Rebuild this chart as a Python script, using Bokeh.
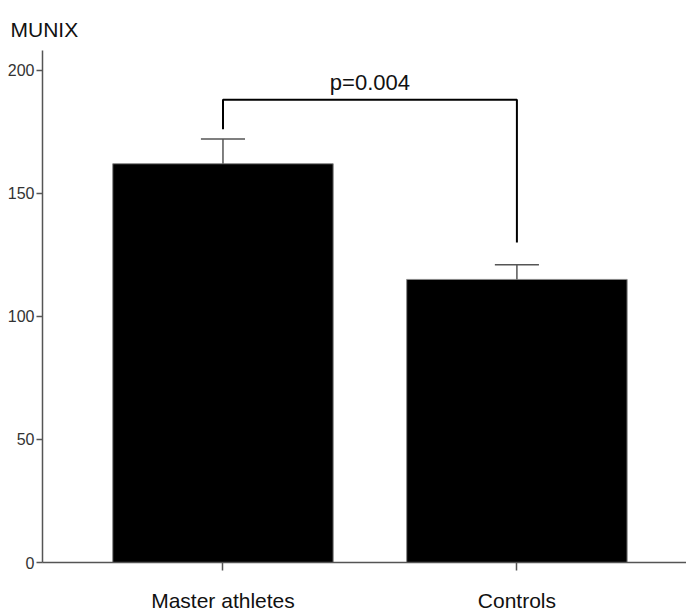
from bokeh.plotting import figure
from bokeh.models import Range1d, FixedTicker, Label, ColumnDataSource
from bokeh.embed import file_html
from bokeh.resources import INLINE

categories = ["Master athletes", "Controls"]
means = [162, 115]
upper = [172, 121]
bracket_left_low = 176
bracket_right_low = 130
bracket_top = 188
p_text = "p=0.004"
y_ticks = [0, 50, 100, 150, 200]

xs = [i + 1 for i in range(len(categories))]

p = figure(width=686, height=614, output_backend="svg", toolbar_location=None,
           x_range=Range1d(0.386, 2.577), y_range=Range1d(0, 208),
           min_border_left=42, min_border_right=0, min_border_top=50, min_border_bottom=52)
p.outline_line_color = None
p.grid.visible = False
p.background_fill_color = "white"

p.title.text = "MUNIX"
p.title.align = "left"
p.title.offset = -32
p.title.text_font = "Liberation Sans"
p.title.text_font_size = "21px"
p.title.text_font_style = "normal"
p.title.text_color = "#111111"
p.title.standoff = 19

src = ColumnDataSource(dict(x=xs, top=means, up=upper))
p.vbar(x="x", top="top", bottom=0, width=0.75, source=src,
       fill_color="black", line_color="#888888", line_width=1)
p.segment(x0="x", y0="top", x1="x", y1="up", source=src, line_color="#555555", line_width=1.5)
p.segment(x0=[x - 0.075 for x in xs], y0=upper, x1=[x + 0.075 for x in xs], y1=upper,
          line_color="#555555", line_width=1.5)

# significance bracket
p.line(x=[xs[0], xs[0], xs[1], xs[1]],
       y=[bracket_left_low, bracket_top, bracket_top, bracket_right_low],
       line_color="black", line_width=2)
p.add_layout(Label(x=(xs[0] + xs[1]) / 2, y=bracket_top, text=p_text, text_align="center",
                   text_baseline="bottom", y_offset=5, text_font="Liberation Sans",
                   text_font_size="22px", text_color="#111111"))

p.xaxis.ticker = FixedTicker(ticks=xs)
p.xaxis.major_label_overrides = {x: c for x, c in zip(xs, categories)}
p.xaxis.minor_tick_line_color = None
p.xaxis.major_tick_out = 8
p.xaxis.major_tick_in = 0
p.xaxis.major_label_standoff = 18
p.xaxis.major_label_text_font = "Liberation Sans"
p.xaxis.major_label_text_font_size = "21px"
p.xaxis.major_label_text_color = "#111111"
p.xaxis.axis_line_color = "#555555"
p.xaxis.axis_line_width = 1.5
p.xaxis.major_tick_line_color = "#555555"
p.xaxis.major_tick_line_width = 1.5

p.yaxis.ticker = FixedTicker(ticks=y_ticks)
p.yaxis.minor_tick_line_color = None
p.yaxis.major_tick_out = 6
p.yaxis.major_tick_in = 0
p.yaxis.major_label_standoff = 2
p.yaxis.major_label_text_font = "Liberation Sans"
p.yaxis.major_label_text_font_size = "16px"
p.yaxis.major_label_text_color = "#333333"
p.yaxis.axis_line_color = "#555555"
p.yaxis.axis_line_width = 1.5
p.yaxis.major_tick_line_color = "#555555"
p.yaxis.major_tick_line_width = 1.5

open("out.html", "w").write(file_html(p, INLINE))
